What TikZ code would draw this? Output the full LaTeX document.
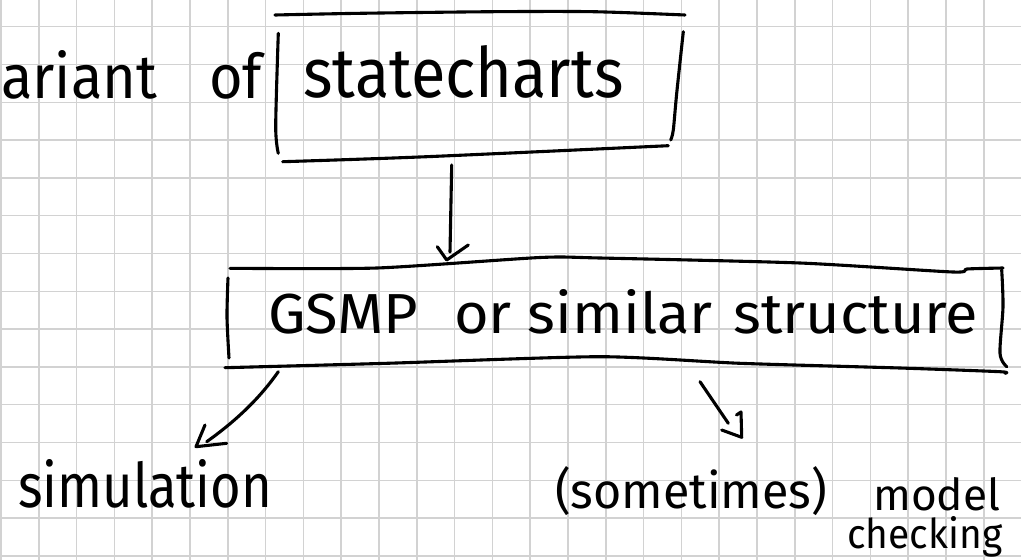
\documentclass[tikz,border=0pt]{standalone}
\usepackage{fontspec}
\setmainfont{Fira Sans}
\usepackage{graphicx}
\definecolor{gridc}{RGB}{210,210,210}
\tikzset{
  gridline/.style={draw=gridc, line width=1.5pt},
  ink/.style={draw=black, line width=3.1pt, line cap=round, line join=round},
  hw/.style={inner sep=0pt, anchor=base west},
}
\newcommand{\hwtext}[3]{\resizebox{#1pt}{#2pt}{#3}}
\begin{document}
\begin{tikzpicture}[x=1pt, y=-1pt]
\useasboundingbox (0,0) rectangle (1021,560);
% grid paper
\foreach \i in {0,...,27} \draw[gridline] ({1+37.8*\i},0) -- ({1+37.8*\i},560);
\foreach \j in {0,...,14} \draw[gridline] (0,{26.7+37.8*\j}) -- (1021,{26.7+37.8*\j});

% texts
\node[hw] (var) at (1,98) {\hwtext{261}{48}{ariant\hspace{0.9em}of}};
\node[hw] (stxt) at (303,97) {\hwtext{320}{52}{statecharts}};
\node[hw] (gtxt) at (268,333) {\hwtext{710}{44}{GSMP\hspace{0.6em}or similar\hspace{0.35em}structure}};
\node[hw] (sim) at (18,507) {\hwtext{254}{48}{simulation}};
\node[hw] (some) at (555,508) {\hwtext{272}{42}{(sometimes)}};
\node[hw] (model) at (873,510) {\hwtext{127}{33}{model}};
\node[hw] (check) at (847,548) {\hwtext{155}{32}{checking}};

% statecharts box (hand drawn)
\draw[ink] plot[smooth] coordinates {(275,15) (360,13.3) (493,11.7) (593,11.7) (685,15)};
\draw[ink] plot[smooth] coordinates {(278.3,33.3) (275.7,126.7) (278.3,153.3)};
\draw[ink] plot[smooth] coordinates {(282.7,161.7) (426.7,156.7) (668.3,145.7)};
\draw[ink] plot[smooth] coordinates {(683.3,31.7) (676.7,93.3) (673.3,130) (670.7,140)};

% GSMP box (hand drawn)
\draw[ink] plot[smooth, tension=0.4] coordinates {(230,268.3) (377,268) (540,257.5) (600,258) (800,263) (953,272) (967,269) (1003,268)};
\draw[ink] plot[smooth] coordinates {(228,278) (227,317) (229,358)};
\draw[ink] plot[smooth, tension=0.4] coordinates {(225,367.7) (386.7,363.3) (600,356.7) (740,363.3) (900,368) (1000,371.7) (1005,373.3)};
\draw[ink] plot[smooth] coordinates {(1001.7,270) (1003,306.7) (1000,353.3) (1006.7,366.7)};

% connector ends
\coordinate (a1s) at (451.7,165);
\coordinate (a1e) at (450,252);
\coordinate (a1h) at (446.7,260);
\coordinate (a2s) at (278.3,371.7);
\coordinate (a2e) at (206.7,441.7);
\coordinate (a2h) at (196,446.7);
\coordinate (a3s) at (700,381.7);
\coordinate (a3e) at (728.3,423.3);
\coordinate (a3h) at (741.7,437.3);

% arrow: statecharts -> GSMP
\draw[ink] (a1s) -- (a1e);
\draw[ink] (437.3,246.7) -- (a1h) -- (468.3,245);

% arrow: GSMP -> simulation
\draw[ink] (a2s) .. controls (262,395) and (240,418) .. (a2e);
\draw[ink] (205,425) -- (a2h) -- (226.7,443.3);

% arrow: GSMP -> (sometimes) model checking
\draw[ink] (a3s) -- (a3e);
\draw[ink] (736.5,415) -- (741,412) -- (a3h) -- (721.7,430);
\end{tikzpicture}
\end{document}
